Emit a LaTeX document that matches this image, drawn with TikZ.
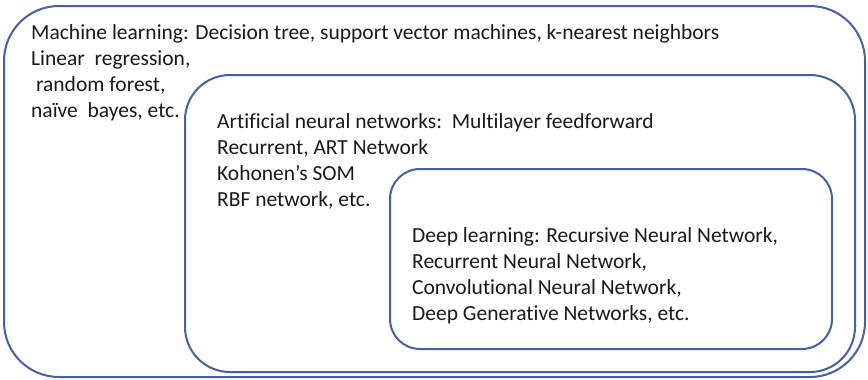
\documentclass[tikz,border=0pt]{standalone}
\usepackage{fontspec}
\setmainfont{Carlito}[Ligatures={NoCommon,NoRare,NoContextual}]
\definecolor{boxblue}{RGB}{70,95,165}
\begin{document}
\begin{tikzpicture}[x=1pt,y=-1pt,
  frame/.style={draw=boxblue,line width=2pt},
  txt/.style={anchor=base west,inner sep=0pt,font=\fontsize{21.5}{26}\selectfont,text=black!90}]
\useasboundingbox (0,0) rectangle (868,380);
% boxes
\draw[frame,rounded corners=55pt] (4,6) rectangle (865,377);
\draw[frame,rounded corners=45pt] (185,75) rectangle (855,372);
\draw[frame,rounded corners=30pt] (390,169) rectangle (832,349);
% machine learning
\node[txt] (ml1) at (31,39) {Machine learning: Decision tree, support vector machines, k-nearest neighbors};
\node[txt] (ml2) at (31,65) {Linear\ \ regression,};
\node[txt] (ml3) at (31,91) {\ random forest,};
\node[txt] (ml4) at (31,117) {naïve\ \ bayes, etc.};
% ann
\node[txt] (an1) at (217,128) {Artificial neural networks:\ \ Multilayer feedforward};
\node[txt] (an2) at (217,154) {Recurrent, ART Network};
\node[txt] (an3) at (217,180) {Kohonen’s SOM};
\node[txt] (an4) at (217,206) {RBF network, etc.};
% deep learning
\node[txt] (dl1) at (412,242) {Deep learning: Recursive Neural Network,};
\node[txt] (dl2) at (412,268) {Recurrent Neural Network,};
\node[txt] (dl3) at (412,294) {Convolutional Neural Network,};
\node[txt] (dl4) at (412,320) {Deep Generative Networks, etc.};
\end{tikzpicture}
\end{document}
